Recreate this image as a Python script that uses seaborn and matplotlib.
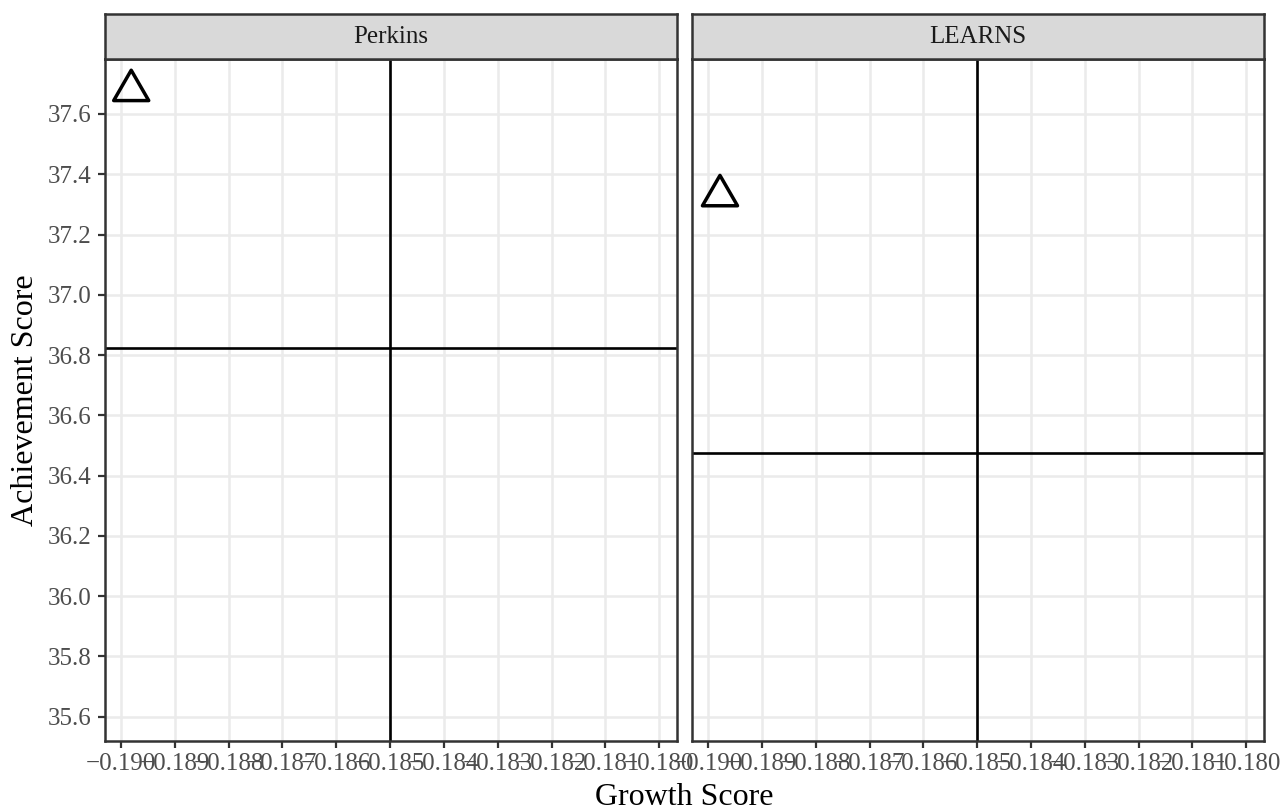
import numpy as np
import pandas as pd
import matplotlib.pyplot as plt
from matplotlib.ticker import FixedLocator, FuncFormatter
import seaborn as sns

# --- data ---
programs = ["Perkins", "LEARNS"]
growth = [-0.18981, -0.18978]
achievement = [37.678, 37.329]
growth_ref = [-0.185, -0.185]          # vertical reference line per panel
achievement_ref = [36.825, 36.476]     # horizontal reference line per panel
x_ticks = [-0.190, -0.189, -0.188, -0.187, -0.186, -0.185,
           -0.184, -0.183, -0.182, -0.181, -0.180]
y_ticks = [35.6, 35.8, 36.0, 36.2, 36.4, 36.6, 36.8, 37.0, 37.2, 37.4, 37.6]
x_lim = (-0.190297, -0.179671)
y_lim = (35.5204, 37.7814)

df = pd.DataFrame({"program": programs, "growth": growth, "achievement": achievement})

sns.set_theme(style="white")
plt.rcParams["font.family"] = ["Liberation Serif", "DejaVu Serif"]

g = sns.FacetGrid(df, col="program", col_order=programs, sharex=True, sharey=True,
                  height=8.1, aspect=0.79, despine=False)
fig = g.figure
fig.set_size_inches(12.84, 8.1)

for ax, prog, gx, gy in zip(g.axes.flat, programs, growth_ref, achievement_ref):
    sub = df[df["program"] == prog]
    ax.grid(True, color="#EBEBEB", linewidth=1.8, zorder=0)
    ax.set_axisbelow(True)
    ax.axvline(gx, color="black", linewidth=1.9, zorder=2)
    ax.axhline(gy, color="black", linewidth=1.9, zorder=2)
    sns.scatterplot(data=sub, x="growth", y="achievement", ax=ax,
                    marker=(3, 0, 0), s=850, facecolors="none",
                    edgecolor="black", linewidth=2.5, zorder=3, legend=False)
    ax.set_xlim(*x_lim)
    ax.set_ylim(*y_lim)
    ax.xaxis.set_major_locator(FixedLocator(x_ticks))
    ax.yaxis.set_major_locator(FixedLocator(y_ticks))
    ax.xaxis.set_major_formatter(FuncFormatter(lambda v, p: f"{v:.3f}".replace("-", "\u2212")))
    ax.yaxis.set_major_formatter(FuncFormatter(lambda v, p: f"{v:.1f}"))
    ax.tick_params(axis="both", which="major", length=5, width=1.6, color="#333333",
                   labelsize=18, labelcolor="#4D4D4D", left=True, bottom=True)
    ax.tick_params(axis="x", pad=3.5)
    ax.tick_params(axis="y", pad=4.5)
    for sp in ax.spines.values():
        sp.set_color("#333333")
        sp.set_linewidth(1.8)
    ax.set_xlabel("")
    ax.set_ylabel("")
    ax.set_title("")

g.axes.flat[1].tick_params(axis="y", left=False, labelleft=False)

fig.subplots_adjust(left=105 / 1284, right=1264 / 1284, top=1 - 59.3 / 810,
                    bottom=1 - 740.7 / 810, wspace=15.3 / 572)

# facet strips
strip_h = 45.3 / 810
for ax, prog in zip(g.axes.flat, programs):
    pos = ax.get_position()
    sax = fig.add_axes([pos.x0, pos.y1, pos.width, strip_h])
    sax.set_facecolor("#D9D9D9")
    sax.set_xticks([])
    sax.set_yticks([])
    for sp in sax.spines.values():
        sp.set_color("#333333")
        sp.set_linewidth(1.8)
    sax.text(0.5, 0.5, prog, ha="center", va="center", fontsize=18,
             color="#1A1A1A", transform=sax.transAxes)

fig.text((105 + 1264) / 2 / 1284, 1 - 805 / 810, "Growth Score", ha="center",
         va="baseline", fontsize=23, color="black")
fig.text(33 / 1284, 1 - 400 / 810, "Achievement Score", ha="center", va="baseline",
         rotation=90, rotation_mode="anchor", fontsize=23, color="black")

fig.savefig("out.png", dpi=100)
